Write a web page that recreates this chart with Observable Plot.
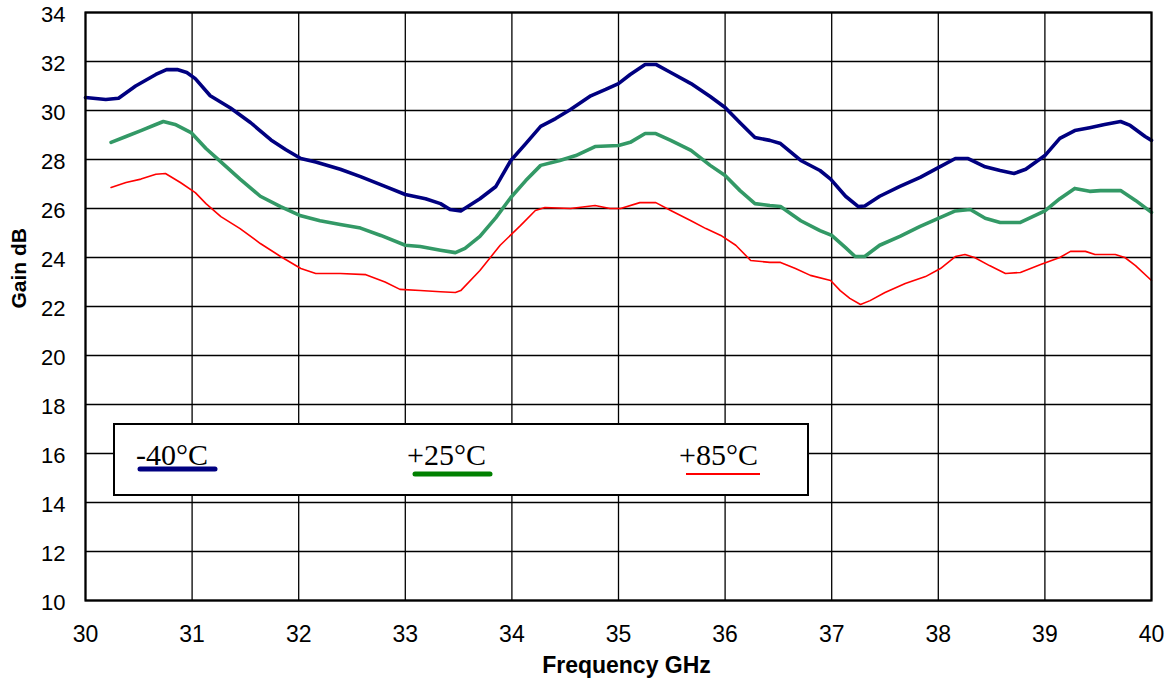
<!DOCTYPE html>
<html>
<head>
<meta charset="utf-8">
<script src="https://cdn.jsdelivr.net/npm/d3@7"></script>
<script src="https://cdn.jsdelivr.net/npm/@observablehq/plot@0.6"></script>
<style>
  html, body { margin: 0; padding: 0; background: #fff; }
  #wrap { position: relative; width: 1175px; height: 687px; }
  #legend { position: absolute; left: 0; top: 0; pointer-events: none; }
</style>
</head>
<body>
<div id="wrap"></div>
<script>
// ---- Data ----
const xTicks = [30, 31, 32, 33, 34, 35, 36, 37, 38, 39, 40];
const yTicks = [10, 12, 14, 16, 18, 20, 22, 24, 26, 28, 30, 32, 34];

const seriesNames = ["-40°C", "+25°C", "+85°C"];

const freqM40 = [30.0, 30.19, 30.31, 30.47, 30.66, 30.76, 30.86, 30.95, 31.03, 31.17, 31.36, 31.55, 31.74, 31.88, 32.02, 32.16, 32.39, 32.58, 32.81, 33.0, 33.19, 33.33, 33.42, 33.52, 33.7, 33.85, 33.99, 34.13, 34.27, 34.41, 34.55, 34.74, 34.88, 35.0, 35.11, 35.25, 35.35, 35.49, 35.68, 35.86, 36.0, 36.14, 36.28, 36.42, 36.52, 36.71, 36.89, 36.99, 37.13, 37.25, 37.31, 37.45, 37.64, 37.83, 38.0, 38.16, 38.28, 38.44, 38.58, 38.71, 38.82, 39.0, 39.14, 39.28, 39.42, 39.56, 39.71, 39.8, 39.94, 40.0];
const gainM40 = [30.53, 30.45, 30.5, 31.0, 31.47, 31.67, 31.67, 31.55, 31.3, 30.6, 30.1, 29.5, 28.8, 28.4, 28.04, 27.9, 27.6, 27.3, 26.9, 26.57, 26.4, 26.2, 25.96, 25.9, 26.4, 26.9, 27.96, 28.65, 29.35, 29.67, 30.04, 30.6, 30.86, 31.1, 31.47, 31.88, 31.88, 31.55, 31.1, 30.57, 30.12, 29.5, 28.9, 28.78, 28.65, 27.96, 27.55, 27.2, 26.5, 26.08, 26.1, 26.5, 26.9, 27.27, 27.67, 28.04, 28.04, 27.7, 27.55, 27.43, 27.6, 28.16, 28.86, 29.18, 29.3, 29.43, 29.55, 29.39, 28.94, 28.78];

const freqP25 = [30.24, 30.38, 30.52, 30.66, 30.73, 30.84, 30.99, 31.13, 31.27, 31.45, 31.64, 31.83, 32.02, 32.2, 32.39, 32.58, 32.77, 33.0, 33.14, 33.33, 33.47, 33.56, 33.7, 33.85, 33.99, 34.13, 34.27, 34.45, 34.6, 34.78, 35.0, 35.11, 35.25, 35.35, 35.49, 35.68, 35.86, 36.0, 36.14, 36.28, 36.42, 36.52, 36.71, 36.89, 37.0, 37.13, 37.22, 37.31, 37.45, 37.64, 37.83, 38.0, 38.16, 38.3, 38.44, 38.58, 38.77, 39.0, 39.14, 39.28, 39.42, 39.52, 39.71, 39.85, 40.0];
const gainP25 = [28.7, 28.94, 29.18, 29.43, 29.55, 29.43, 29.1, 28.45, 27.9, 27.2, 26.5, 26.08, 25.7, 25.5, 25.35, 25.2, 24.9, 24.5, 24.45, 24.3, 24.2, 24.37, 24.86, 25.63, 26.45, 27.14, 27.76, 27.96, 28.16, 28.53, 28.57, 28.7, 29.06, 29.06, 28.78, 28.37, 27.76, 27.35, 26.73, 26.2, 26.12, 26.08, 25.5, 25.1, 24.9, 24.4, 24.04, 24.04, 24.5, 24.86, 25.27, 25.6, 25.9, 25.96, 25.6, 25.43, 25.43, 25.9, 26.4, 26.82, 26.7, 26.73, 26.73, 26.33, 25.84];

const freqP85 = [30.24, 30.38, 30.52, 30.66, 30.75, 30.89, 31.03, 31.13, 31.27, 31.45, 31.64, 31.83, 32.02, 32.16, 32.39, 32.63, 32.81, 32.95, 33.14, 33.33, 33.47, 33.52, 33.7, 33.89, 34.08, 34.22, 34.31, 34.55, 34.78, 34.92, 35.02, 35.2, 35.35, 35.49, 35.68, 35.82, 35.96, 36.1, 36.24, 36.42, 36.52, 36.66, 36.8, 36.99, 37.08, 37.17, 37.27, 37.36, 37.5, 37.69, 37.88, 38.02, 38.16, 38.25, 38.34, 38.48, 38.63, 38.77, 38.96, 39.14, 39.24, 39.38, 39.47, 39.66, 39.75, 39.85, 40.0];
const gainP85 = [26.86, 27.06, 27.2, 27.4, 27.43, 27.06, 26.65, 26.2, 25.67, 25.18, 24.57, 24.04, 23.55, 23.35, 23.35, 23.3, 23.0, 22.7, 22.65, 22.6, 22.57, 22.65, 23.47, 24.5, 25.3, 25.92, 26.04, 26.0, 26.12, 26.0, 26.0, 26.24, 26.24, 25.92, 25.5, 25.18, 24.9, 24.5, 23.88, 23.8, 23.8, 23.55, 23.27, 23.06, 22.65, 22.33, 22.08, 22.24, 22.57, 22.94, 23.22, 23.55, 24.04, 24.12, 24.0, 23.67, 23.35, 23.39, 23.71, 24.0, 24.25, 24.25, 24.12, 24.12, 24.0, 23.67, 23.06];

const lineColors = ["#000080", "#339966", "#ff0000"];
const legendColors = ["#000080", "#008000", "#ff0000"];

// ---- Build tables ----
const toRows = (fs, gs, s) => fs.map((f, i) => ({freq: f, gain: gs[i], series: s}));
const rowsM40 = toRows(freqM40, gainM40, seriesNames[0]);
const rowsP25 = toRows(freqP25, gainP25, seriesNames[1]);
const rowsP85 = toRows(freqP85, gainP85, seriesNames[2]);

const chart = Plot.plot({
  width: 1175,
  height: 687,
  marginLeft: 85,
  marginRight: 24,
  marginTop: 12,
  marginBottom: 87,
  x: {domain: [30, 40], axis: null},
  y: {domain: [10, 34], axis: null},
  style: {fontFamily: "'Liberation Sans', Arial, sans-serif", fontSize: "22px", color: "black", background: "white"},
  marks: [
    Plot.ruleX(xTicks, {stroke: "black", strokeWidth: 1.3}),
    Plot.ruleY(yTicks, {stroke: "black", strokeWidth: 1.3}),
    Plot.line(rowsP85, {x: "freq", y: "gain", stroke: lineColors[2], strokeWidth: 1.6}),
    Plot.line(rowsP25, {x: "freq", y: "gain", stroke: lineColors[1], strokeWidth: 3.6}),
    Plot.line(rowsM40, {x: "freq", y: "gain", stroke: lineColors[0], strokeWidth: 3.6}),
    Plot.frame({stroke: "black", strokeWidth: 2.2}),
    // tick labels via the scales
    Plot.text(xTicks, {x: d => d, frameAnchor: "bottom", dy: 41, text: d => String(d), fontSize: 23, fill: "black"}),
    Plot.text(yTicks, {y: d => d, frameAnchor: "left", dx: -20, dy: 2, textAnchor: "end", text: d => String(d), fontSize: 22, fill: "black"}),
    Plot.text(["Frequency GHz"], {frameAnchor: "bottom", dy: 72, dx: 8, fontWeight: "bold", fontSize: 23}),
    Plot.text(["Gain dB"], {frameAnchor: "left", dx: -66, dy: 2, rotate: -90, fontWeight: "bold", fontSize: 21})
  ]
});

const wrap = document.getElementById("wrap");
wrap.appendChild(chart);

// ---- Legend overlay ----
const leg = d3.select(wrap).append("svg")
  .attr("id", "legend")
  .attr("width", 1175).attr("height", 687);
leg.append("rect")
  .attr("x", 114).attr("y", 424).attr("width", 694).attr("height", 71)
  .attr("fill", "white").attr("stroke", "black").attr("stroke-width", 2);

const legendItems = [
  {name: seriesNames[0], tx: 136, ty: 465, lx1: 140, lx2: 215, ly: 469, w: 5, color: legendColors[0]},
  {name: seriesNames[1], tx: 407, ty: 465, lx1: 415, lx2: 490, ly: 474, w: 5, color: legendColors[1]},
  {name: seriesNames[2], tx: 679, ty: 465, lx1: 686, lx2: 760, ly: 474, w: 2, color: legendColors[2]}
];
legendItems.forEach(d => {
  leg.append("text")
    .attr("x", d.tx).attr("y", d.ty)
    .attr("font-family", "'Liberation Serif', 'Times New Roman', serif")
    .attr("font-size", 30)
    .attr("fill", "black")
    .text(d.name);
  leg.append("line")
    .attr("x1", d.lx1).attr("x2", d.lx2).attr("y1", d.ly).attr("y2", d.ly)
    .attr("stroke", d.color).attr("stroke-width", d.w)
    .attr("stroke-linecap", d.w > 3 ? "round" : "butt");
});
</script>
</body>
</html>
